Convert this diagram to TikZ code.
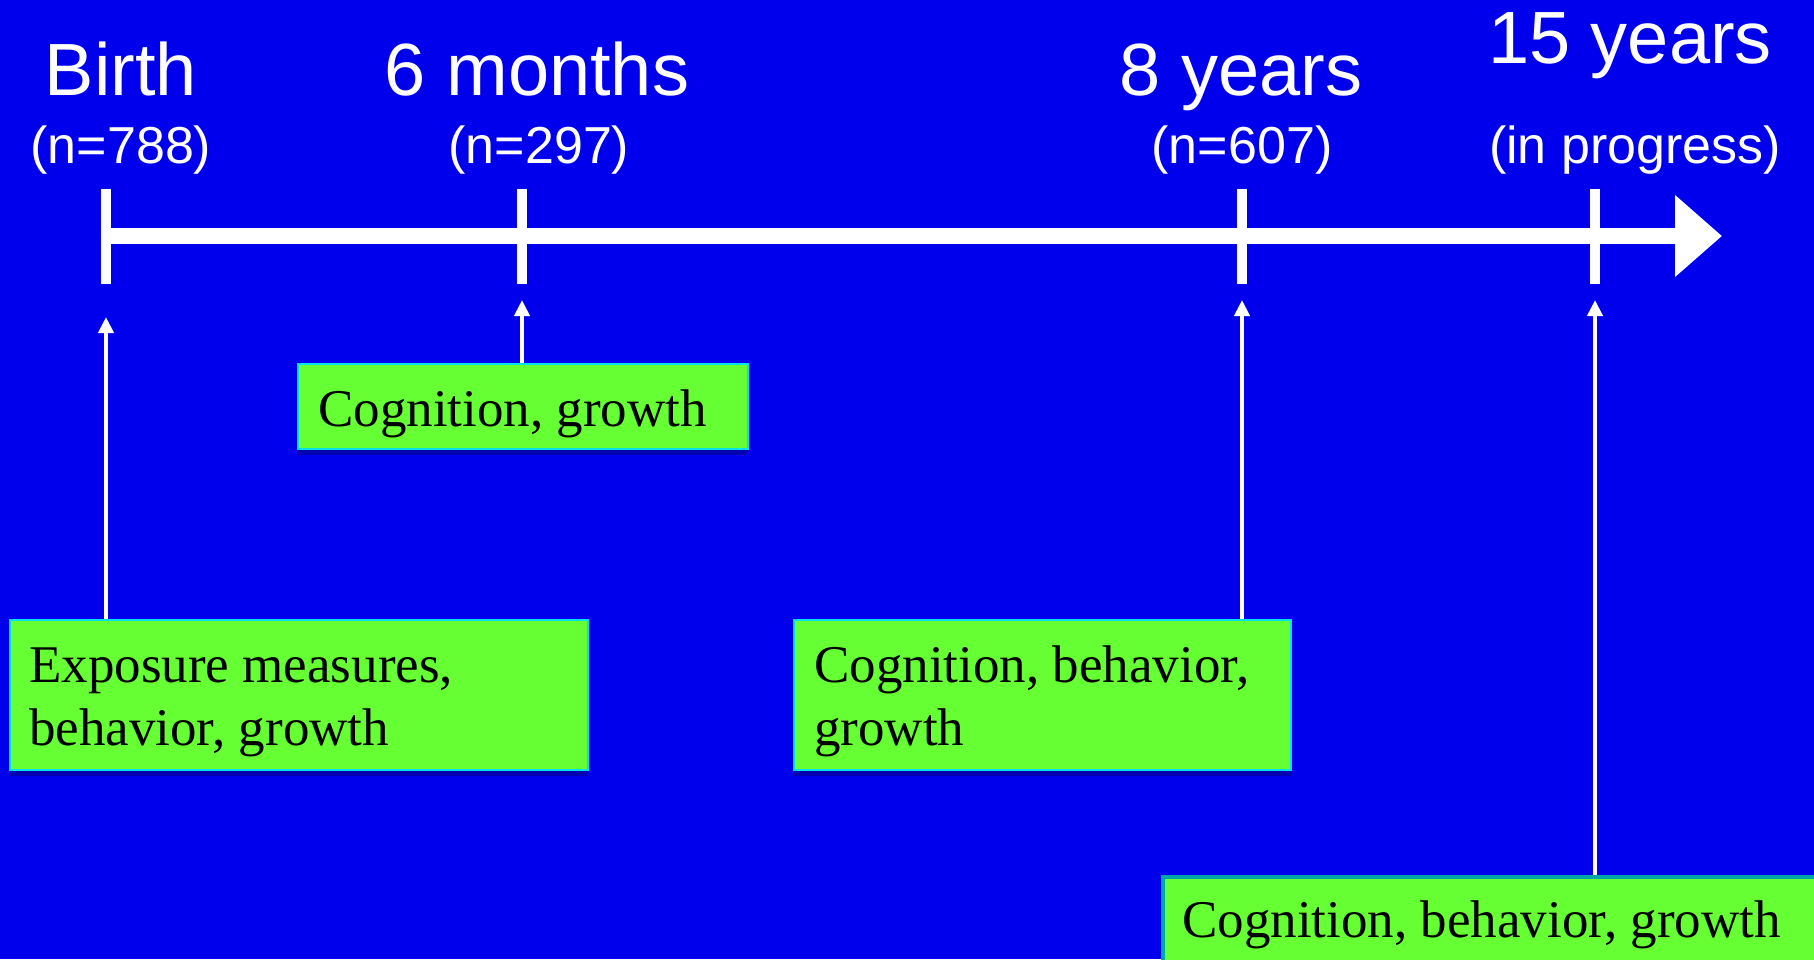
\documentclass[tikz,border=0pt]{standalone}
\usepackage{fontspec}
\setmainfont{Liberation Serif}
\newfontfamily\hdfont{Liberation Sans}
\usetikzlibrary{arrows.meta,shadows}
\definecolor{bgblue}{RGB}{0,0,236}
\definecolor{boxgreen}{RGB}{102,255,51}
\definecolor{boxedge}{RGB}{0,225,235}
\definecolor{boxedgedark}{RGB}{0,165,170}
\begin{document}
\begin{tikzpicture}[x=1pt,y=-1pt,
  title/.style={text=white, font=\hdfont\fontsize{74}{80}\selectfont, inner sep=0pt, anchor=base},
  count/.style={text=white, font=\hdfont\fontsize{52}{60}\selectfont, inner sep=0pt, anchor=base},
  tickmark/.style={fill=white, draw=none, minimum width=10pt, minimum height=95pt, inner sep=0pt},
  infobox/.style={fill=boxgreen, draw=boxedge, line width=2pt, inner sep=0pt, anchor=north west,
    drop shadow={shadow xshift=0pt, shadow yshift=-6pt, fill=black, opacity=0.25}},
  infotext/.style={inner sep=0pt, anchor=base west, font=\fontsize{53}{63}\selectfont},
  feed/.style={white, line width=4pt, -{Triangle[width=15pt,length=16pt]}},
  axisline/.style={white, line width=16pt, -{Triangle[width=79pt,length=47pt]}},
]
\useasboundingbox (0,0) rectangle (1814,959);
\clip (0,0) rectangle (1814,959);
\fill[bgblue] (0,0) rectangle (1814,959);

% header labels
\node[title] (h0) at (121,95) {Birth};
\node[count] (n0) at (121,163) {(n=788)};
\node[title] (h1) at (537,95) {6 months};
\node[count] (n1) at (539,163) {(n=297)};
\node[title] (h2) at (1241,95) {8 years};
\node[count] (n2) at (1242,163) {(n=607)};
\node[title] (h3) at (1630,63) {15 years};
\node[count] (n3) at (1635,163) {(in progress)};

% axis
\coordinate (axisend) at (1722,236);
\node[tickmark] (t0) at (106,236) {};
\node[tickmark] (t1) at (522,236) {};
\node[tickmark] (t2) at (1242,236) {};
\node[tickmark] (t3) at (1595,236) {};
\draw[axisline] (t0.center) -- (axisend);

% boxes
\node[infobox, minimum width=578pt, minimum height=150pt] (b0) at (9,619) {};
\node[infobox, minimum width=450pt, minimum height=85pt] (b1) at (297,363) {};
\node[infobox, minimum width=497pt, minimum height=150pt] (b2) at (793,619) {};
\node[infobox, draw=boxedgedark, line width=4pt, minimum width=680pt, minimum height=110pt] (b3) at (1161,875) {};

\node[infotext] (x0) at (29,682) {\parbox[t]{560pt}{\raggedright Exposure measures,\\behavior, growth}};
\node[infotext] (x1) at (318,426) {Cognition, growth};
\node[infotext] (x2) at (814,682) {\parbox[t]{470pt}{\raggedright Cognition, behavior,\\growth}};
\node[infotext] (x3) at (1182,937) {Cognition, behavior, growth};

% arrow tips
\coordinate (a0) at (106,317);
\coordinate (a1) at (522,300);
\coordinate (a2) at (1242,300);
\coordinate (a3) at (1595,300);

\draw[feed] (a0 |- b0.north) -- (a0);
\draw[feed] (a1 |- b1.north) -- (a1);
\draw[feed] (a2 |- b2.north) -- (a2);
\draw[feed] (a3 |- b3.north) -- (a3);
\end{tikzpicture}
\end{document}
